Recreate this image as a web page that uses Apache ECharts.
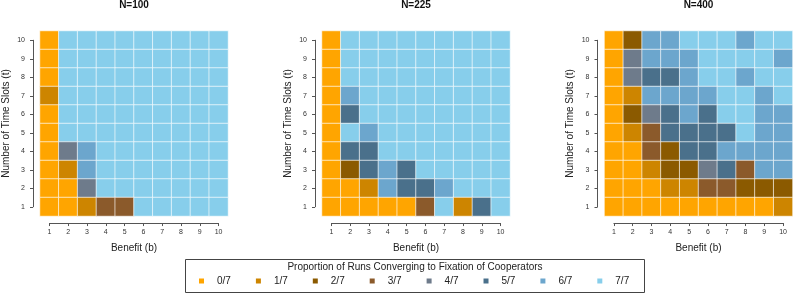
<!DOCTYPE html>
<html>
<head>
<meta charset="utf-8">
<script src="https://cdn.jsdelivr.net/npm/echarts@6/dist/echarts.min.js"></script>
<style>html,body{margin:0;padding:0;background:#fff}#c{width:794px;height:294px}</style>
</head>
<body>
<div id="c"></div>
<script>
// categories
const benefits = ['1','2','3','4','5','6','7','8','9','10'];
const timeSlots = ['1','2','3','4','5','6','7','8','9','10'];
const panelTitles = ['N=100', 'N=225', 'N=400'];
const levelLabels = ['0/7','1/7','2/7','3/7','4/7','5/7','6/7','7/7'];
const levelColors = ['#FFA500','#CD8500','#8B5A00','#8B5A2B','#6E7B8B','#4A708B','#6CA6CD','#87CEEB'];

// values: number of runs (out of 7) converging to cooperation; rows t=10 .. t=1, columns b=1..10
const n100 = [
  [0,7,7,7,7,7,7,7,7,7],
  [0,7,7,7,7,7,7,7,7,7],
  [0,7,7,7,7,7,7,7,7,7],
  [1,7,7,7,7,7,7,7,7,7],
  [0,7,7,7,7,7,7,7,7,7],
  [0,7,7,7,7,7,7,7,7,7],
  [0,4,6,7,7,7,7,7,7,7],
  [0,1,6,7,7,7,7,7,7,7],
  [0,0,4,7,7,7,7,7,7,7],
  [0,0,1,3,3,7,7,7,7,7]
];
const n225 = [
  [0,7,7,7,7,7,7,7,7,7],
  [0,7,7,7,7,7,7,7,7,7],
  [0,7,7,7,7,7,7,7,7,7],
  [0,6,7,7,7,7,7,7,7,7],
  [0,5,7,7,7,7,7,7,7,7],
  [0,7,6,7,7,7,7,7,7,7],
  [0,5,5,7,7,7,7,7,7,7],
  [0,2,5,6,5,7,7,7,7,7],
  [0,0,1,6,5,5,6,7,7,7],
  [0,0,0,0,0,3,7,1,5,7]
];
const n400 = [
  [0,2,6,6,7,7,7,6,7,7],
  [0,4,6,6,6,7,7,7,7,6],
  [0,4,5,5,6,7,7,6,7,7],
  [0,1,6,6,6,6,7,7,6,7],
  [0,2,4,5,6,5,7,7,6,6],
  [0,1,3,5,5,5,5,7,6,6],
  [0,0,3,2,5,5,6,6,6,6],
  [0,0,1,2,2,4,5,3,6,6],
  [0,0,0,1,1,3,3,2,2,2],
  [0,0,0,0,0,0,0,0,0,1]
];
const panels = [n100, n225, n400];

function toHeat(m) {
  const out = [];
  for (let r = 0; r < m.length; r++) {
    const tIdx = m.length - 1 - r;
    for (let c = 0; c < m[r].length; c++) out.push([c, tIdx, m[r][c]]);
  }
  return out;
}

const lefts = [40, 322, 604.5];
const TOP = 31, W = 188, H = 185;
const cw = W / 10, ch = H / 10;
const FONT = 'Liberation Sans, Arial, Helvetica, sans-serif';

const grids = [], xAxes = [], yAxes = [], series = [], graphics = [];
lefts.forEach((L, i) => {
  grids.push({left: L, top: TOP, width: W, height: H});
});
lefts.forEach((L, i) => {
  grids.push({left: L + cw / 2, top: TOP + ch / 2, width: W - cw, height: H - ch});
});
lefts.forEach((L, i) => {
  xAxes.push({type: 'category', gridIndex: i, data: benefits, show: false});
  yAxes.push({type: 'category', gridIndex: i, data: timeSlots, show: false});
});
lefts.forEach((L, i) => {
  const axStyle = {lineStyle: {color: '#555', width: 1}};
  xAxes.push({
    type: 'value', gridIndex: 3 + i, min: 1, max: 10, interval: 1, offset: 16.3,
    axisLine: {show: true, ...axStyle}, axisTick: {show: true, length: 3, ...axStyle},
    splitLine: {show: false},
    axisLabel: {fontSize: 7, color: '#333', margin: 6, fontFamily: FONT},
    name: 'Benefit (b)', nameLocation: 'middle', nameGap: 20,
    nameTextStyle: {fontSize: 10, color: '#222', fontFamily: FONT}
  });
  yAxes.push({
    type: 'value', gridIndex: 3 + i, min: 1, max: 10, interval: 1, offset: 16.4,
    axisLine: {show: true, ...axStyle}, axisTick: {show: true, length: 3, ...axStyle},
    splitLine: {show: false},
    axisLabel: {fontSize: 7, color: '#333', margin: 8, fontFamily: FONT},
    name: 'Number of Time Slots (t)', nameLocation: 'middle', nameGap: 22,
    nameTextStyle: {fontSize: 10, color: '#222', fontFamily: FONT}
  });
});
panels.forEach((m, i) => {
  series.push({
    type: 'heatmap', xAxisIndex: i, yAxisIndex: i, data: toHeat(m),
    itemStyle: {borderColor: 'rgba(255,255,255,0.65)', borderWidth: 1},
    emphasis: {disabled: true}
  });
  series.push({type: 'scatter', xAxisIndex: 3 + i, yAxisIndex: 3 + i, data: []});
  graphics.push({
    type: 'text', x: lefts[i] + W / 2, y: 5,
    style: {text: panelTitles[i], textAlign: 'center', textVerticalAlign: 'middle',
      font: 'bold 10px ' + FONT, fill: '#111'}
  });
});
graphics.push({
  type: 'rect', shape: {x: 185.5, y: 259.5, width: 459, height: 33},
  style: {fill: 'none', stroke: '#444', lineWidth: 1}
});
graphics.push({
  type: 'text', x: 415, y: 267,
  style: {text: 'Proportion of Runs Converging to Fixation of Cooperators', textAlign: 'center',
    textVerticalAlign: 'middle', font: '10px ' + FONT, fill: '#222'}
});

const chart = echarts.init(document.getElementById('c'), null, {renderer: 'canvas'});
chart.setOption({
  animation: false,
  backgroundColor: '#fff',
  grid: grids,
  xAxis: xAxes,
  yAxis: yAxes,
  visualMap: {
    type: 'piecewise', seriesIndex: [0, 2, 4], orient: 'horizontal',
    left: 199, top: 276, padding: 0, itemWidth: 5, itemHeight: 5, itemGap: 25, itemSymbol: 'rect',
    textGap: 13, selectedMode: false,
    textStyle: {fontSize: 10, color: '#222', fontFamily: FONT},
    pieces: levelLabels.map((lab, k) => ({value: k, label: lab, color: levelColors[k]}))
  },
  series: series,
  graphic: graphics
});
</script>
</body>
</html>
